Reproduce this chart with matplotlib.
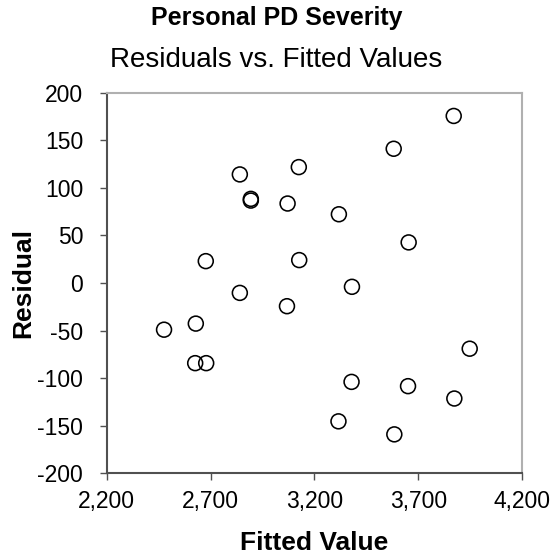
import numpy as np
import matplotlib.pyplot as plt
from matplotlib.ticker import FuncFormatter

fitted = np.array([3871, 3582, 3125, 2841, 2894, 2894, 3071, 3318, 3654, 2677, 3127, 3381,
                   2841, 3068, 2629, 2476, 2626, 2679, 3948, 3379, 3651, 3874, 3316, 3585])
residual = np.array([175.7, 141.2, 121.9, 114.2, 88.5, 86.7, 83.6, 72.3, 42.7, 23.0, 24.1, -4.0,
                     -10.4, -24.4, -42.7, -49.1, -84.3, -84.3, -69.1, -104.0, -108.5, -121.5, -145.5, -159.2])

x_ticks = [2200, 2700, 3200, 3700, 4200]
y_ticks = [-200, -150, -100, -50, 0, 50, 100, 150, 200]

plt.rcParams['font.family'] = ['Liberation Sans', 'DejaVu Sans']
plt.rcParams['axes.unicode_minus'] = False

fig = plt.figure(figsize=(5.53, 5.56), dpi=100)
ax = fig.add_axes([0.193, 0.149, 0.751, 0.684])

ax.scatter(fitted, residual, s=115, facecolors='none', edgecolors='black', linewidths=1.15, zorder=3)

ax.set_xlim(2200, 4200)
ax.set_ylim(-200, 200)
ax.set_xticks(x_ticks)
ax.set_yticks(y_ticks)
ax.xaxis.set_major_formatter(FuncFormatter(lambda v, p: f"{int(v):,}"))
ax.tick_params(direction='out', length=5, width=1, color='#505050', labelsize=16.5)
ax.tick_params(axis='y', pad=12)
ax.tick_params(axis='x', pad=7)

for side in ['left', 'bottom']:
    ax.spines[side].set_color('#505050')
    ax.spines[side].set_linewidth(1.5)
for side in ['top', 'right']:
    ax.spines[side].set_color('#b0b0b0')
    ax.spines[side].set_linewidth(1.5)

ax.set_xlabel('Fitted Value', fontsize=19, fontweight='bold', va='center')
ax.set_ylabel('Residual', fontsize=19, fontweight='bold', va='center')
ax.xaxis.set_label_coords(0.5, -0.184)
ax.yaxis.set_label_coords(-0.2, 0.5)

fig.text(0.5, 0.968, 'Personal PD Severity', ha='center', va='center', fontsize=18, fontweight='bold')
fig.text(0.5, 0.892, 'Residuals vs. Fitted Values', ha='center', va='center', fontsize=20)

fig.savefig('out.png', dpi=100)
